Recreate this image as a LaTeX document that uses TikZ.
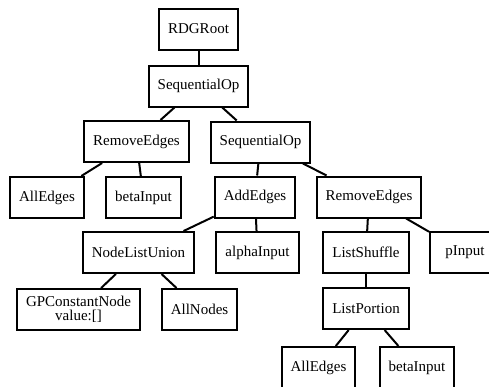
\documentclass[tikz,border=0pt]{standalone}
\usepackage{fontspec}
\setmainfont{Liberation Serif}
\usepackage{tikz}
\usetikzlibrary{positioning}

\begin{document}
\begin{tikzpicture}[
    x=1pt, y=-1pt,
    op/.style={
        rectangle,
        draw=black,
        line width=2pt,
        fill=white,
        inner xsep=9pt,
        minimum height=41pt,
        align=center,
        font=\fontsize{15}{16}\selectfont
    },
    link/.style={
        line width=2pt,
        black
    }
]

% Canvas
\useasboundingbox (0,0) rectangle (489,386);

% Root and first sequence
\node[op] (root) at (198.5,29) {RDGRoot};
\node[op] (seqA) at (198.5,86) {SequentialOp};

% Second level
\node[op] (removeA) at (136.5,141.5) {RemoveEdges};
\node[op] (seqB) at (260.5,142) {SequentialOp};

% Third level
\node[op] (edgesA) at (47,197.5) {AllEdges};
\node[op] (betaA) at (143.5,197.5) {betaInput};
\node[op] (addEdges) at (255,197) {AddEdges};
\node[op] (removeB) at (369,197) {RemoveEdges};

% Fourth level
\node[op] (union) at (138.5,252.5) {NodeListUnion};
\node[op] (alpha) at (257.5,252.5) {alphaInput};
\node[op] (shuffle) at (366,252.5) {ListShuffle};
\node[op, minimum width=70pt] (pin) at (465,252.5) {pInput};

% Fifth level
\node[op] (constant) at (78.5,309.5) {GPConstantNode\\[-2pt]value:[]};
\node[op] (nodesAll) at (199.5,309.5) {AllNodes};
\node[op] (portion) at (366,308.5) {ListPortion};

% Last level
\node[op] (edgesB) at (318.5,367.5) {AllEdges};
\node[op] (betaB) at (417,367.5) {betaInput};

% Links
\draw[link] (root) -- (seqA);
\draw[link] (seqA) -- (removeA);
\draw[link] (seqA) -- (seqB);
\draw[link] (removeA) -- (edgesA);
\draw[link] (removeA) -- (betaA);
\draw[link] (seqB) -- (addEdges);
\draw[link] (seqB) -- (removeB);
\draw[link] (addEdges) -- (union);
\draw[link] (addEdges) -- (alpha);
\draw[link] (removeB) -- (shuffle);
\draw[link] (removeB) -- (pin);
\draw[link] (union) -- (constant);
\draw[link] (union) -- (nodesAll);
\draw[link] (shuffle) -- (portion);
\draw[link] (portion) -- (edgesB);
\draw[link] (portion) -- (betaB);

\end{tikzpicture}
\end{document}
